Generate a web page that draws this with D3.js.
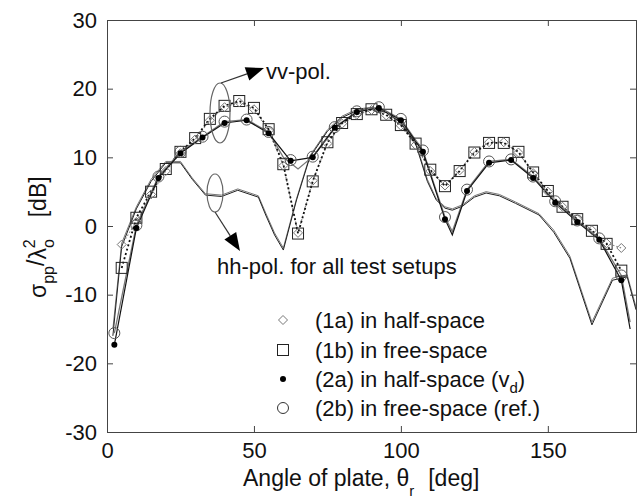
<!DOCTYPE html>
<html><head><meta charset="utf-8">
<script src="https://cdn.jsdelivr.net/npm/d3@7"></script>
<style>body{margin:0;background:#fff}svg{display:block}text{font-family:"Liberation Sans",Arial,sans-serif}</style>
</head><body><svg id="c" width="640" height="500"></svg>
<script>
// ---- data ----
const xTicks = [0, 50, 100, 150];
const yTicks = [-30, -20, -10, 0, 10, 20, 30];

// (1a) diamonds and (1b) squares, measured every 5 deg
const angles1 = [5,10,15,20,25,30,35,40,45,50,55,60,65,70,75,80,85,90,95,100,105,110,115,120,125,130,135,140,145,150,155,160,165,170,175];
const vals1a = [-2.7,0.6,4.6,8.0,10.6,12.6,15.4,17.3,18.0,17.0,13.9,8.8,-1.0,6.6,12.0,14.9,16.2,16.9,16.1,14.6,11.8,8.0,5.9,8.1,10.8,12.2,12.2,10.7,7.7,5.0,2.8,1.0,-0.6,-2.5,-3.2];
const vals1b = [-6.1,1.2,5.0,8.3,10.8,12.8,15.6,17.5,18.2,17.2,14.1,9.0,-1.1,6.5,12.2,15.0,16.3,17.0,16.2,14.7,12.0,8.2,5.8,8.0,10.7,12.1,12.1,10.8,7.8,5.1,2.8,1.0,-0.7,-2.6,-6.5];

// (2a) dots and (2b) circles, measured every 7.5 deg
const angles2 = [2.5,10,17.5,25,32.5,40,47.5,55,62.5,70,77.5,85,92.5,100,107.5,115,122.5,130,137.5,145,152.5,160,167.5,175];
const vals2a = [-17.3,-0.3,7.0,10.6,12.9,15.0,15.4,13.5,9.5,10.0,14.3,16.6,17.2,15.4,10.8,1.0,5.1,9.2,9.6,7.0,3.4,0.6,-2.0,-7.9];
const vals2b = [-15.6,0.1,7.2,10.8,13.0,15.2,15.5,13.7,9.6,10.1,14.4,16.7,17.3,15.6,11.0,1.3,5.3,9.4,9.7,7.2,3.6,0.8,-1.8,-7.2];

// lines drawn through the (2a)/(2b) results
const line2aAngles = [2.5,10,17.5,25,32.5,40,47.5,55,62.5,70,77.5,85,92.5,100,107.5,115,117.5,122.5,130,137.5,145,152.5,160,167.5,175,178];
const line2aVals   = [-17.3,-0.3,7.0,10.6,12.9,15.0,15.4,13.5,9.5,10.0,14.3,16.6,17.2,15.4,10.8,1.0,-1.3,5.1,9.2,9.6,7.0,3.4,0.6,-2.0,-7.9,-15.0];
const line2bAngles = [2.5,10,17.5,25,32.5,40,47.5,55,60,65,70,77.5,85,92.5,100,107.5,115,117.5,122.5,130,137.5,145,152.5,160,167.5,175,178];
const line2bVals   = [-15.6,0.1,7.2,10.8,13.0,15.2,15.5,13.7,10.0,8.3,10.1,14.4,16.7,17.3,15.6,11.0,1.3,-0.8,5.3,9.4,9.7,7.2,3.6,0.8,-1.8,-7.2,-14.0];

// hh-pol. (all test setups)
const hhAngles = [2,5,10,15,20,25,29,33.5,39,44.5,51.5,54,57,60,64.5,69,75,80,85,90,95,100,105,109,112,115,117.5,121,125,129,133.5,139,147,152,157.5,165,172,177,180];
const hhValsA  = [-16.0,-3.0,2.5,6.5,9.2,9.2,6.8,4.5,4.3,5.2,4.2,1.6,-1.3,-3.5,3.8,10.0,13.8,15.8,16.8,17.2,16.5,15.0,12.0,6.5,3.8,2.6,2.3,2.9,4.2,4.8,4.4,3.3,1.6,-0.9,-4.7,-14.4,-7.9,-7.4,-12.2];
const hhValsB  = [-15.0,-2.5,2.8,6.8,9.4,9.4,7.0,4.7,4.5,5.4,4.4,1.9,-1.0,-3.2,4.0,10.2,14.0,16.0,17.0,17.3,16.6,15.1,12.2,6.8,4.0,2.8,2.5,3.1,4.4,5.0,4.6,3.5,1.8,-0.6,-4.4,-14.0,-7.6,-7.1,-11.8];

const legendLabels = ["(1a) in half-space", "(1b) in free-space", "(2a) in half-space (v", "(2b) in free-space (ref.)"];

// ---- drawing ----
const svg = d3.select("#c");
const x = d3.scaleLinear().domain([0,180]).range([107,636]);
const y = d3.scaleLinear().domain([-30,30]).range([432,20]);
const frame = "#444";
const FONT = "'Liberation Sans',Arial,sans-serif";

const g = svg.append("g");
svg.append("clipPath").attr("id","clp").append("rect")
  .attr("x",107).attr("y",20).attr("width",529).attr("height",412);

const fmt = d => String(d);
const axB = d3.axisBottom(x).tickValues(xTicks).tickSize(-6).tickPadding(10).tickFormat(fmt);
const axT = d3.axisTop(x).tickValues(xTicks).tickSize(-6).tickFormat("");
const axL = d3.axisLeft(y).tickValues(yTicks).tickSize(-6).tickPadding(10).tickFormat(fmt);
const axR = d3.axisRight(y).tickValues(yTicks).tickSize(-6).tickFormat("");
function styleAx(sel){
  sel.select(".domain").attr("stroke",frame).attr("stroke-width",1);
  sel.selectAll(".tick line").attr("stroke",frame);
  sel.selectAll(".tick text").attr("fill","#111").style("font-size","22px").style("font-family",FONT);
}
g.append("g").attr("transform","translate(0,432)").call(axB).call(styleAx);
g.append("g").attr("transform","translate(0,20)").call(axT).call(styleAx);
g.append("g").attr("transform","translate(107,0)").call(axL).call(styleAx);
g.append("g").attr("transform","translate(636,0)").call(axR).call(styleAx);

const plot = svg.append("g").attr("clip-path","url(#clp)");
const lineGen = d3.line().x(d=>x(d[0])).y(d=>y(d[1]));
const zipv = (a,b)=>a.map((v,i)=>[v,b[i]]);

// hh lines
plot.append("path").datum(zipv(hhAngles,hhValsB)).attr("d",lineGen)
  .attr("fill","none").attr("stroke","#777").attr("stroke-width",1);
plot.append("path").datum(zipv(hhAngles,hhValsA)).attr("d",lineGen)
  .attr("fill","none").attr("stroke","#222").attr("stroke-width",1);

// vv lines
plot.append("path").datum(zipv(angles1,vals1a)).attr("d",lineGen)
  .attr("fill","none").attr("stroke","#888").attr("stroke-width",1.2).attr("stroke-dasharray","1.5,2");
plot.append("path").datum(zipv(angles1,vals1b)).attr("d",lineGen)
  .attr("fill","none").attr("stroke","#111").attr("stroke-width",1.8).attr("stroke-dasharray","2,2.5");
plot.append("path").datum(zipv(line2bAngles,line2bVals)).attr("d",lineGen)
  .attr("fill","none").attr("stroke","#777").attr("stroke-width",1.3);
plot.append("path").datum(zipv(line2aAngles,line2aVals)).attr("d",lineGen)
  .attr("fill","none").attr("stroke","#111").attr("stroke-width",1.2);

// markers
function diamond(sel, s){ return sel.attr("d", `M0,${-s}L${s},0L0,${s}L${-s},0Z`); }
plot.selectAll(".sq").data(zipv(angles1,vals1b)).join("rect").attr("class","sq")
  .attr("x",d=>x(d[0])-5.5).attr("y",d=>y(d[1])-5.5).attr("width",11).attr("height",11)
  .attr("fill","none").attr("stroke","#222").attr("stroke-width",1);
plot.selectAll(".dm").data(zipv(angles1,vals1a)).join("path").attr("class","dm")
  .attr("transform",d=>`translate(${x(d[0])},${y(d[1])})`)
  .call(diamond,4.5).attr("fill","none").attr("stroke","#777").attr("stroke-width",1);
plot.selectAll(".ci").data(zipv(angles2,vals2b)).join("circle").attr("class","ci")
  .attr("cx",d=>x(d[0])).attr("cy",d=>y(d[1])).attr("r",5.5)
  .attr("fill","none").attr("stroke","#555").attr("stroke-width",1);
plot.selectAll(".dt").data(zipv(angles2,vals2a)).join("circle").attr("class","dt")
  .attr("cx",d=>x(d[0])).attr("cy",d=>y(d[1])).attr("r",3)
  .attr("fill","#000");

// annotations: ellipses and arrows
svg.append("ellipse").attr("cx",220).attr("cy",113).attr("rx",10).attr("ry",30)
  .attr("fill","none").attr("stroke","#666").attr("stroke-width",1.2);
svg.append("ellipse").attr("cx",215).attr("cy",193).attr("rx",8).attr("ry",19)
  .attr("fill","none").attr("stroke","#666").attr("stroke-width",1.2);
function arrow(x1,y1,x2,y2,len,hw){
  const dx=x2-x1, dy=y2-y1, L=Math.hypot(dx,dy), ux=dx/L, uy=dy/L;
  const bx=x2-ux*len, by=y2-uy*len;
  svg.append("line").attr("x1",x1).attr("y1",y1).attr("x2",bx).attr("y2",by)
    .attr("stroke","#333").attr("stroke-width",1.2);
  svg.append("path").attr("d",`M${x2},${y2}L${bx-uy*hw},${by+ux*hw}L${bx+uy*hw},${by-ux*hw}Z`).attr("fill","#000");
}
arrow(221,83,264,68,18,7);
arrow(215,212,240,251,18,7);

svg.append("text").attr("x",266).attr("y",79).style("font-size","22px").attr("fill","#111").text("vv-pol.");
svg.append("text").attr("x",217).attr("y",274).style("font-size","22px").attr("fill","#111").text("hh-pol. for all test setups");

// legend
const legY = [320, 350, 379, 408];
const lg = svg.append("g");
diamond(lg.append("path").attr("transform",`translate(283,${legY[0]})`),4.5).attr("fill","none").attr("stroke","#777");
lg.append("rect").attr("x",277.5).attr("y",legY[1]-5.5).attr("width",11).attr("height",11).attr("fill","none").attr("stroke","#222");
lg.append("circle").attr("cx",283).attr("cy",legY[2]).attr("r",3).attr("fill","#000");
lg.append("circle").attr("cx",283).attr("cy",legY[3]).attr("r",5.5).attr("fill","none").attr("stroke","#333");
legendLabels.forEach((t,i)=>{
  const tx = lg.append("text").attr("x",315).attr("y",legY[i]+8).style("font-size","22px").attr("fill","#111").text(t);
  if(i===2){ tx.append("tspan").attr("dy",6).style("font-size","15px").text("d"); tx.append("tspan").attr("dy",-6).text(")"); }
});

// axis titles
const xl = svg.append("text").attr("x",243).attr("y",486).style("font-size","23px").attr("fill","#111").text("Angle of plate, θ");
xl.append("tspan").attr("dy",10).style("font-size","15px").text("r");
xl.append("tspan").attr("dy",-10).attr("dx",14).text("[deg]");

const yl = svg.append("text").attr("transform","translate(46,298) rotate(-90)").style("font-size","23px").attr("fill","#111");
yl.append("tspan").text("σ");
yl.append("tspan").attr("dy",8).style("font-size","16px").text("pp");
yl.append("tspan").attr("dy",-10).text("/");
yl.append("tspan").attr("dy",2).text("λ");
yl.append("tspan").attr("dy",8).style("font-size","16px").text("o");
yl.append("tspan").attr("dy",-19).attr("dx",-9).style("font-size","16px").text("2");
yl.append("tspan").attr("dy",11).attr("dx",22).text("[dB]");
</script></body></html>
